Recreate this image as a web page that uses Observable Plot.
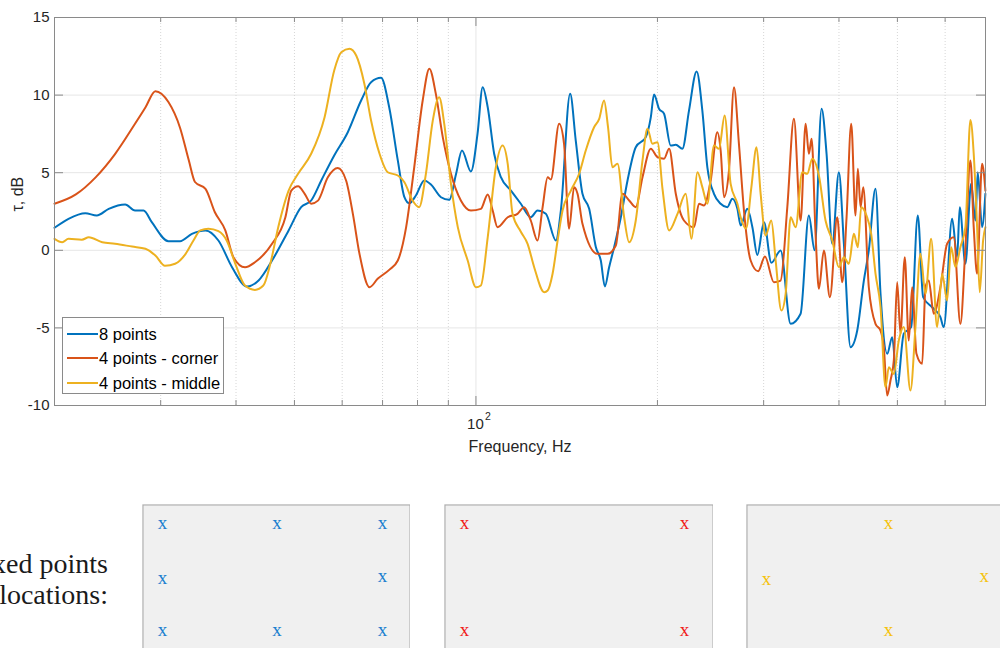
<!DOCTYPE html>
<html>
<head>
<meta charset="utf-8">
<script src="https://cdn.jsdelivr.net/npm/d3@7"></script>
<script src="https://cdn.jsdelivr.net/npm/@observablehq/plot@0.6"></script>
<style>
html, body { margin: 0; padding: 0; background: #fff; width: 1000px; height: 648px; overflow: hidden; }
#root { position: relative; width: 1000px; height: 648px; overflow: hidden; }
.abs { position: absolute; }
</style>
</head>
<body>
<div id="root"></div>
<script>
// ---------------- data ----------------
const seriesNames = ["8 points", "4 points - corner", "4 points - middle"];
const seriesColors = ["#0072BD", "#D95319", "#EDB120"];

const freq8 = [20.0,21.1,22.5,23.5,24.6,26.2,27.2,28.1,29.0,30.9,32.3,33.8,35.6,37.4,39.4,41.7,43.6,45.9,48.9,51.3,53.3,55.4,58.2,61.3,64.5,67.0,69.6,71.8,74.2,76.1,77.5,79.5,82.1,84.2,87.5,90.3,92.7,94.8,98.1,100.6,102.6,104.6,107.2,110.0,114.3,118.7,123.3,126.5,130.6,135.7,138.3,143.3,146.4,150.2,154.1,158.1,161.1,163.6,166.3,169.5,173.9,178.4,184.1,191.3,195.0,197.4,201.2,205.1,210.4,214.5,220.0,225.6,232.3,237.4,242.0,248.2,254.6,261.2,266.2,271.4,274.8,281.9,287.4,292.9,300.4,309.0,320.1,332.6,345.5,356.6,364.4,374.3,381.5,389.9,399.9,407.6,418.1,428.9,439.9,448.3,459.9,468.8,480.9,490.2,499.6,512.3,527.0,540.5,551.7,571.0,589.3,596.8,616.3,628.1,634.4,648.3,662.6,673.6,679.5,690.9,699.7];
const tau8 = [1.45,2.03,2.39,2.24,2.67,2.95,2.56,2.56,1.81,0.59,0.59,1.06,1.28,0.63,-1.09,-2.33,-1.95,-0.66,1.28,2.78,3.21,4.5,6.11,7.61,9.65,10.83,11.11,9.22,5.79,3.42,3.03,3.53,4.5,4.24,3.42,3.25,4.93,6.43,5.08,7.5,10.51,9.22,6.22,4.71,3.85,3.0,2.13,2.56,2.35,0.63,2.56,10.08,7.07,3.64,2.67,0.2,-0.66,-2.33,-1.09,0.2,2.13,4.5,6.64,7.29,8.58,10.04,9.12,8.8,6.75,6.8,6.54,9.0,11.52,9.0,5.35,3.64,3.0,2.78,3.32,2.67,1.6,2.67,1.49,-0.3,1.8,-0.8,-0.01,-4.74,-4.09,2.24,0,9.12,6.22,0.42,5.03,0.42,-6.24,-5.17,-1.95,0,3.96,-2.8,-6.67,-5.6,-8.82,-5.38,-4.95,2.24,-3.02,-3.67,-4.31,-4.95,2.03,-0.44,2.78,-0.87,4.28,1.92,5.03,1.49,3.64];

const freqCorner = [20.0,21.7,23.4,25.2,27.2,28.3,29.4,30.9,32.3,33.4,34.2,35.6,36.9,38.4,39.6,41.4,43.0,45.9,48.3,49.4,50.7,52.0,53.3,54.7,56.8,59.0,60.9,62.5,64.1,66.6,68.7,71.8,74.2,76.6,79.0,81.6,83.7,85.8,88.1,90.9,94.4,98.1,101.9,104.6,106.6,108.6,112.9,117.2,120.2,123.3,126.5,129.0,131.5,133.1,137.4,140.0,142.7,145.5,147.4,150.2,159.1,165.3,170.6,175.0,179.5,184.1,188.9,195.0,200.0,205.1,209.1,214.5,221.3,230.0,234.4,238.9,245.1,251.4,254.6,257.9,262.8,267.9,273.0,278.3,285.5,293.8,301.5,312.0,320.1,328.4,336.8,345.5,352.2,356.6,360.3,365.8,370.5,377.6,386.4,397.4,405.1,411.8,419.2,426.1,429.9,434.4,438.9,448.3,459.9,468.8,474.7,480.9,487.0,493.2,499.6,505.9,514.3,522.2,529.0,537.8,549.6,556.6,563.6,574.5,589.3,604.6,620.0,636.0,648.3,660.8,669.2,677.9,690.9,699.7];
const tauCorner = [3.0,3.6,4.7,6.2,8.15,9.2,10.25,9.55,7.9,5.8,4.4,3.96,2.45,1.28,-0.44,-1.09,-0.77,0.42,2.13,3.85,4.13,3.64,3.0,3.2,4.7,5.3,4.5,2.35,-0.23,-2.38,-1.84,-1.26,-0.66,1.49,5.35,9.65,11.7,10.08,7.29,4.93,3.21,2.56,2.67,3.6,2.56,1.49,2.13,2.35,2.78,1.92,0.63,2.78,4.71,4.56,8.15,6.86,1.39,4.07,3.64,1.71,-0.23,-0.23,0.31,3.64,3.21,2.78,4.71,6.54,6.0,5.9,6.54,3.64,1.92,1.49,3.0,2.89,4.5,7.61,6.43,3.42,5.14,10.5,6.86,2.56,-0.66,-1.35,-0.4,-2.06,-1.95,2.78,8.47,1.92,8.15,6.22,7.18,1.06,-2.48,-0.01,-3.02,2.13,-2.06,2.13,8.15,2.24,5.25,2.78,4.07,-2.38,-4.74,-5.17,-6.24,-9.36,-8.39,-7.1,-2.06,-5.38,-0.44,-5.81,-2.38,-6.67,-7.31,-2.38,-1.95,-4.09,-2.38,0.42,0.84,-4.74,0.2,5.79,1.49,-1.51,5.57,3.85];

const freqMiddle = [20.0,20.6,21.1,22.2,22.8,24.0,25.2,26.9,28.3,29.4,30.5,31.7,33.0,34.0,34.9,36.0,37.4,38.6,39.9,41.4,43.0,44.4,45.6,47.0,48.9,50.7,53.3,56.1,58.2,59.8,61.7,63.3,65.3,67.0,69.2,71.4,74.2,76.1,78.5,80.5,82.6,84.8,86.9,88.6,90.9,93.3,96.9,100.0,101.9,104.6,107.9,110.7,112.9,115.0,118.7,121.8,124.9,129.8,131.5,134.0,136.6,139.2,143.7,148.3,152.1,157.0,160.1,163.1,165.6,168.4,171.7,176.1,179.5,184.1,188.9,192.5,196.2,200.0,203.9,209.1,215.9,222.8,227.7,233.0,237.4,242.0,248.2,253.0,258.5,264.5,271.4,274.8,280.5,286.3,292.0,296.6,302.3,308.9,314.1,321.0,326.3,332.6,339.0,347.7,354.4,361.3,370.5,380.0,389.9,399.9,407.6,415.4,423.4,429.9,435.5,444.4,452.4,459.9,468.8,477.8,483.9,493.2,502.7,512.3,525.6,535.7,546.0,556.6,568.8,581.9,593.2,604.6,613.9,624.1,636.0,648.3,660.8,669.2,677.9,684.7,693.6,699.7];
const tauMiddle = [0.74,0.52,0.74,0.68,0.84,0.52,0.42,0.24,0.1,-0.34,-1.0,-0.87,-0.23,0.63,1.28,1.39,1.23,0.63,-0.87,-2.27,-2.55,-2.27,-0.87,1.49,3.85,4.93,6.22,8.58,11.59,12.76,12.98,12.55,10.73,8.36,6.22,5.03,4.82,4.39,3.21,2.78,4.93,8.36,9.86,8.15,4.28,1.49,-0.66,-2.38,-2.27,0.84,5.35,6.75,5.57,2.35,1.2,0.42,-1.09,-2.7,-2.59,-1.51,0.63,2.56,3.85,4.93,6.43,7.93,8.47,9.65,7.93,5.35,5.57,2.13,0.52,1.92,5.79,7.83,6.86,6.97,3.96,1.28,2.35,3.64,0.74,5.03,4.07,3.0,6.75,6.54,8.69,4.28,3.0,2.13,1.4,4.07,6.64,3.64,0.95,1.92,-0.66,-3.88,-2.8,2.13,1.49,5.03,4.93,5.9,4.82,1.92,0.63,-1.09,-0.44,-0.87,1.06,0.2,2.78,2.24,1.06,-1.51,-3.67,-8.82,-7.53,-7.96,-5.81,-4.95,-9.03,-4.95,-0.23,-2.8,0.74,-4.95,-1.51,-3.23,0.2,-1.09,0.2,1.49,8.4,6.22,1.49,-2.7,0.63,1.49];

const yTicks = [-10, -5, 0, 5, 10, 15];
const yTickLabels = ["-10", "-5", "0", "5", "10", "15"];
const xMajorTicks = [100];
const xTickBases = ["10"];
const xTickExponents = ["2"];
const xMinorTicks = [30, 40, 50, 60, 70, 80, 90, 200, 300, 400, 500, 600];
const xLabel = "Frequency, Hz";
const yLabel = "τ, dB";

// measurement point layouts (normalised room coordinates)
const layoutNames = ["8 points", "4 points - corner", "4 points - middle"];
const layoutColors = ["#1a7fcf", "#f01c1c", "#f5c20c"];
const layout8X = [0, 0.52, 1, 0, 1, 0, 0.52, 1];
const layout8Y = [0, 0, 0, 0.51, 0.49, 1, 1, 1];
const layoutCornerX = [0, 1, 0, 1];
const layoutCornerY = [0, 0, 1, 1];
const layoutMiddleX = [0.555, 0, 0.99, 0.555];
const layoutMiddleY = [0, 0.52, 0.49, 1];
const markerSymbol = "x";
const captionLines = ["Fixed points", "locations:"];

// ---------------- build ----------------
const root = document.getElementById("root");
const rows = [];
[[freq8, tau8], [freqCorner, tauCorner], [freqMiddle, tauMiddle]].forEach(([fs, vs], i) => {
  fs.forEach((f, j) => rows.push({series: seriesNames[i], f, v: vs[j]}));
});

const frameW = 931, frameH = 388;
const sans = "'Liberation Sans', Arial, Helvetica, sans-serif";
const axisGray = "#8a8a8a";
const textGray = "#262626";

const chart = Plot.plot({
  width: 1000,
  height: 470,
  marginLeft: 54,
  marginRight: 15,
  marginTop: 17,
  marginBottom: 65,
  x: {type: "log", domain: [20, 700], axis: null},
  y: {domain: [-10, 15], axis: null},
  color: {domain: seriesNames, range: seriesColors},
  style: {fontFamily: sans, fontSize: "15px", color: textGray, background: "#fff", overflow: "visible"},
  marks: [
    Plot.ruleY(yTicks, {stroke: "#e6e6e6", strokeWidth: 1}),
    Plot.ruleX(xMinorTicks, {stroke: "#d6d6d6", strokeWidth: 1, strokeDasharray: "1,2"}),
    Plot.ruleX(xMajorTicks, {stroke: "#e6e6e6", strokeWidth: 1}),
    Plot.line(rows, {x: "f", y: "v", z: "series", stroke: "series", strokeWidth: 2, curve: "monotone-x"}),
    Plot.frame({stroke: axisGray, strokeWidth: 1}),
    // inward ticks on all four sides
    Plot.tickY(yTicks, {y: d => d, stroke: axisGray, insetRight: frameW - 9}),
    Plot.tickY(yTicks, {y: d => d, stroke: axisGray, insetLeft: frameW - 9}),
    Plot.tickX(xMinorTicks, {x: d => d, stroke: axisGray, insetTop: frameH - 5}),
    Plot.tickX(xMinorTicks, {x: d => d, stroke: axisGray, insetBottom: frameH - 5}),
    Plot.tickX(xMajorTicks, {x: d => d, stroke: axisGray, insetTop: frameH - 9}),
    Plot.tickX(xMajorTicks, {x: d => d, stroke: axisGray, insetBottom: frameH - 9}),
    // tick labels
    Plot.text(yTicks, {y: d => d, frameAnchor: "left", dx: -5, textAnchor: "end",
      text: (d, i) => yTickLabels[i], fontSize: 15, fill: textGray}),
    Plot.text(xMajorTicks, {x: d => d, frameAnchor: "bottom", dy: 23, dx: -0.5,
      text: (d, i) => xTickBases[i], fontSize: 15, fill: textGray}),
    Plot.text(xMajorTicks, {x: d => d, frameAnchor: "bottom", dy: 14, dx: 12,
      text: (d, i) => xTickExponents[i], fontSize: 10.5, fill: textGray}),
    // axis titles
    Plot.text([xLabel], {frameAnchor: "bottom", dy: 46, fontSize: 16, fill: textGray}),
    Plot.text([yLabel], {frameAnchor: "left", dx: -37, rotate: -90, fontSize: 16, fill: textGray})
  ]
});
chart.classList.add("abs");
chart.style.left = "0px";
chart.style.top = "0px";
root.appendChild(chart);

// legend (inside axes, bottom-left)
const legend = document.createElement("div");
legend.className = "abs";
Object.assign(legend.style, {
  left: "62px", top: "317px", width: "162px", height: "77px",
  border: "1px solid " + axisGray, background: "#fff", boxSizing: "border-box",
  font: "16.5px " + sans, color: "#000"
});
seriesNames.forEach((name, i) => {
  const cy = 15.5 + i * 24.5;
  const sw = document.createElement("div");
  sw.className = "abs";
  Object.assign(sw.style, {left: "4px", top: (cy - 1) + "px", width: "31px", height: "2px", background: seriesColors[i]});
  const tx = document.createElement("div");
  tx.className = "abs";
  Object.assign(tx.style, {left: "36px", top: (cy - 11) + "px", height: "22px", lineHeight: "22px", whiteSpace: "nowrap"});
  tx.textContent = name;
  legend.appendChild(sw);
  legend.appendChild(tx);
});
root.appendChild(legend);

// caption text on the left (clipped by page edge, as in the reference)
const cap = document.createElement("div");
cap.className = "abs";
Object.assign(cap.style, {
  right: (1000 - 108) + "px", top: "548px", textAlign: "right", whiteSpace: "nowrap",
  font: "28px 'Liberation Serif', 'DejaVu Serif', serif", lineHeight: "31px", color: "#1a1a1a"
});
cap.innerHTML = captionLines.map(s => `<div>${s}</div>`).join("");
root.appendChild(cap);

// layout boxes
const layouts = [
  {xs: layout8X, ys: layout8Y, left: 142, w: 268},
  {xs: layoutCornerX, ys: layoutCornerY, left: 444, w: 269},
  {xs: layoutMiddleX, ys: layoutMiddleY, left: 746, w: 270}
];
layouts.forEach((L, i) => {
  const pts = L.xs.map((x, j) => ({x, y: L.ys[j], name: layoutNames[i]}));
  const p = Plot.plot({
    width: L.w, height: 150, margin: 0,
    x: {domain: [0, 1], range: [20, 240], axis: null},
    y: {domain: [0, 1], range: [18.5, 125.5], axis: null},
    style: {background: "#f0f0f0"},
    marks: [
      Plot.frame({stroke: "#a8a8a8", strokeWidth: 1, inset: 0.5}),
      Plot.text(pts, {x: "x", y: "y", text: () => markerSymbol, fill: layoutColors[i],
        fontFamily: "'Liberation Serif', 'DejaVu Serif', serif", fontSize: 19})
    ]
  });
  p.classList.add("abs");
  p.style.left = L.left + "px";
  p.style.top = "504px";
  root.appendChild(p);
});
</script>
</body>
</html>
